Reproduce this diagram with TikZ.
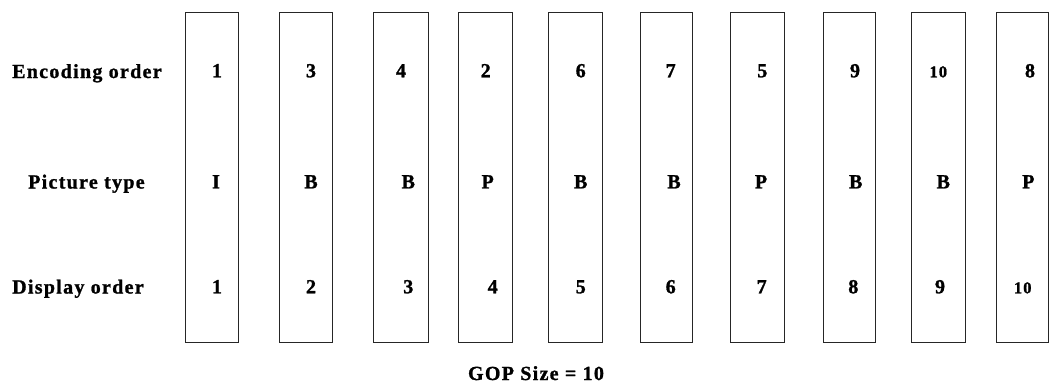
\documentclass[tikz,border=0pt]{standalone}
\usepackage{fontspec}
\setmainfont{Liberation Serif}[LetterSpace=6.5,BoldFeatures={FakeBold=1.2}]
\begin{document}
\begin{tikzpicture}[x=1pt,y=-1pt,
  frame/.style={draw=black!85,line width=1.2pt},
  lbl/.style={inner sep=0pt,font=\bfseries\fontsize{20}{24}\selectfont},
  cell/.style={inner sep=0pt,anchor=base,font=\bfseries\fontsize{20}{24}\selectfont},
  small/.style={font=\bfseries\fontsize{16.5}{20}\selectfont}]
\useasboundingbox (0,0) rectangle (1049,383);
% frames: left edge / right edge of each picture column
\foreach \i/\l/\r in {1/185.5/238.5, 2/279.5/332.5, 3/373.5/428.5, 4/458.5/512.5,
  5/548.5/602.5, 6/640.5/692.5, 7/730.5/784.5, 8/823.5/875.5, 9/911.5/965.5, 10/996.5/1048.4}
  \draw[frame] (\l,12.5) rectangle (\r,342.5) node[coordinate] (col\i) {};
% row captions
\node[lbl,anchor=base west] (enc) at (12,78) {Encoding order};
\node[lbl,anchor=base west] (typ) at (28,188.5) {Picture type};
\node[lbl,anchor=base west] (dis) at (12,293.5) {Display order};
% encoding order
\foreach \n/\x/\t in {e1/217/1, e2/311/3, e3/401/4, e4/485.7/2, e5/580.7/6,
  e6/670.7/7, e7/762.3/5, e8/855/9, e10/1030/8}
  \node[cell] (\n) at (\x,77.3) {\t};
\node[cell,small] (e9) at (938.3,77.3) {10};
% picture type
\foreach \n/\x/\t in {t1/216/I, t2/311/B, t3/408.3/B, t4/487.7/P, t5/580.7/B,
  t6/674/B, t7/761/P, t8/855.7/B, t9/943.3/B, t10/1028.3/P}
  \node[cell] (\n) at (\x,188.3) {\t};
% display order
\foreach \n/\x/\t in {d1/217/1, d2/311/2, d3/408.3/3, d4/492.7/4, d5/580.7/5,
  d6/670.7/6, d7/761.7/7, d8/853.3/8, d9/940/9}
  \node[cell] (\n) at (\x,293.3) {\t};
\node[cell,small] (d10) at (1022.7,293.3) {10};
% caption
\node[cell] (gop) at (536,380) {GOP Size = 10};
\end{tikzpicture}
\end{document}
